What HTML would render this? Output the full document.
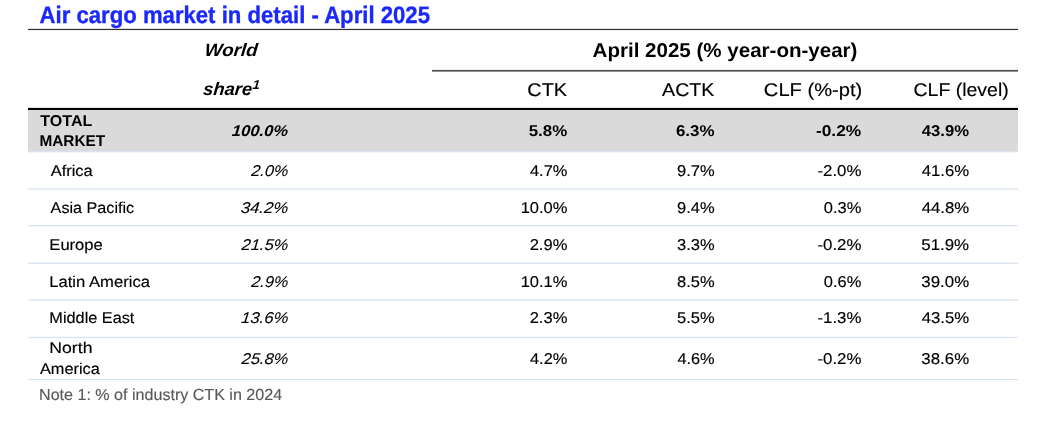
<!DOCTYPE html>
<html lang="en"><head><meta charset="utf-8"><title>Air cargo market in detail - April 2025</title>
<style>
html,body{margin:0;padding:0;background:#fff}
#pg{position:relative;width:1051px;height:429px;overflow:hidden;background:#fff;font-family:"Liberation Sans", sans-serif;color:#000;text-rendering:geometricPrecision}
.t{position:absolute;left:0;height:0;line-height:0;white-space:nowrap;transform-origin:0 50%}
.t sup{font-size:72%;vertical-align:baseline;position:relative;top:-0.43em;line-height:0}

</style></head><body>
<div id="pg">
<svg id="rules" class="ln" width="1051" height="429" viewBox="0 0 1051 429" style="position:absolute;left:0;top:0;width:1051px;height:429px"><rect x="28" y="110" width="990" height="41.2" fill="#dadada"/><rect x="28" y="28.85" width="990" height="1.2" fill="#2e2e2e"/><rect x="432" y="69.9" width="586" height="1.75" fill="#555"/><rect x="28" y="107.9" width="990" height="2.1" fill="#000"/><rect x="28" y="151.05" width="990" height="1.3" fill="#d9e3f1"/><rect x="28" y="188.40" width="990" height="1.3" fill="#d9e3f1"/><rect x="28" y="224.95" width="990" height="1.3" fill="#d9e3f1"/><rect x="28" y="262.65" width="990" height="1.3" fill="#d9e3f1"/><rect x="28" y="299.25" width="990" height="1.3" fill="#d9e3f1"/><rect x="28" y="336.80" width="990" height="1.3" fill="#d9e3f1"/><rect x="28" y="378.85" width="990" height="1.3" fill="#d9e3f1"/></svg>
<div class="t" id="title" style="top:15.60px;font-size:23.8px;font-weight:700;color:#1a28fa;-webkit-text-stroke:0.35px;transform:translateX(39.56px) scaleX(0.9302);">Air cargo market in detail - April 2025</div>
<div class="t" id="hworld" style="top:50.20px;font-size:17.9px;font-weight:700;font-style:italic;transform:translateX(204.82px) scaleX(1.0525) skewX(-5deg);">World</div>
<div class="t" id="hshare" style="top:89.20px;font-size:17.9px;font-weight:700;font-style:italic;transform:translateX(203.38px) scaleX(1.0222) skewX(-5deg);">share<sup>1</sup></div>
<div class="t" id="hgroup" style="top:51.20px;font-size:20px;font-weight:700;transform:translateX(592.60px) scaleX(1.027);">April 2025 (% year-on-year)</div>
<div class="t" id="hctk" style="top:90.40px;font-size:18.4px;-webkit-text-stroke:0.15px;transform:translateX(527.36px) scaleX(1.0798);">CTK</div>
<div class="t" id="hactk" style="top:90.40px;font-size:18.4px;-webkit-text-stroke:0.15px;transform:translateX(662.10px) scaleX(1.0645);">ACTK</div>
<div class="t" id="hclfpt" style="top:90.40px;font-size:18.4px;-webkit-text-stroke:0.15px;transform:translateX(763.85px) scaleX(1.0942);">CLF (%-pt)</div>
<div class="t" id="hclflv" style="top:90.40px;font-size:18.4px;-webkit-text-stroke:0.15px;transform:translateX(913.50px) scaleX(1.0586);">CLF (level)</div>
<div class="t" id="tot_ws" style="top:131.70px;font-size:15.6px;font-weight:700;font-style:italic;transform:translateX(231.94px) scaleX(1.062) skewX(-5deg);">100.0%</div>
<div class="t" id="tot_a" style="top:131.70px;font-size:15.6px;font-weight:700;transform:translateX(528.71px) scaleX(1.0842);">5.8%</div>
<div class="t" id="tot_b" style="top:131.70px;font-size:15.6px;font-weight:700;transform:translateX(675.96px) scaleX(1.0856);">6.3%</div>
<div class="t" id="tot_c" style="top:131.70px;font-size:15.6px;font-weight:700;transform:translateX(815.89px) scaleX(1.1147);">-0.2%</div>
<div class="t" id="tot_d" style="top:131.70px;font-size:15.6px;font-weight:700;transform:translateX(921.75px) scaleX(1.0679);">43.9%</div>
<div class="t" id="afr_l" style="top:171.50px;font-size:15.6px;-webkit-text-stroke:0.15px;transform:translateX(50.63px) scaleX(1.0579);">Africa</div>
<div class="t" id="afr_ws" style="top:171.50px;font-size:15.6px;font-style:italic;-webkit-text-stroke:0.08px;transform:translateX(251.26px) scaleX(1.0439) skewX(-5deg);">2.0%</div>
<div class="t" id="afr_a" style="top:171.50px;font-size:15.6px;-webkit-text-stroke:0.15px;transform:translateX(530.00px) scaleX(1.0512);">4.7%</div>
<div class="t" id="afr_b" style="top:171.50px;font-size:15.6px;-webkit-text-stroke:0.15px;transform:translateX(677.02px) scaleX(1.0576);">9.7%</div>
<div class="t" id="afr_c" style="top:171.50px;font-size:15.6px;-webkit-text-stroke:0.15px;transform:translateX(817.46px) scaleX(1.079);">-2.0%</div>
<div class="t" id="afr_d" style="top:171.50px;font-size:15.6px;-webkit-text-stroke:0.15px;transform:translateX(921.63px) scaleX(1.0741);">41.6%</div>
<div class="t" id="asi_l" style="top:209.00px;font-size:15.6px;-webkit-text-stroke:0.15px;transform:translateX(50.61px) scaleX(1.0362);">Asia Pacific</div>
<div class="t" id="asi_ws" style="top:209.00px;font-size:15.6px;font-style:italic;-webkit-text-stroke:0.08px;transform:translateX(240.86px) scaleX(1.0743) skewX(-5deg);">34.2%</div>
<div class="t" id="asi_a" style="top:209.00px;font-size:15.6px;-webkit-text-stroke:0.15px;transform:translateX(520.64px) scaleX(1.0578);">10.0%</div>
<div class="t" id="asi_b" style="top:209.00px;font-size:15.6px;-webkit-text-stroke:0.15px;transform:translateX(677.02px) scaleX(1.0576);">9.4%</div>
<div class="t" id="asi_c" style="top:209.00px;font-size:15.6px;-webkit-text-stroke:0.15px;transform:translateX(823.86px) scaleX(1.0552);">0.3%</div>
<div class="t" id="asi_d" style="top:209.00px;font-size:15.6px;-webkit-text-stroke:0.15px;transform:translateX(921.63px) scaleX(1.0741);">44.8%</div>
<div class="t" id="eur_l" style="top:245.70px;font-size:15.6px;-webkit-text-stroke:0.15px;transform:translateX(49.35px) scaleX(1.0608);">Europe</div>
<div class="t" id="eur_ws" style="top:245.70px;font-size:15.6px;font-style:italic;-webkit-text-stroke:0.08px;transform:translateX(241.60px) scaleX(1.0576) skewX(-5deg);">21.5%</div>
<div class="t" id="eur_a" style="top:245.70px;font-size:15.6px;-webkit-text-stroke:0.15px;transform:translateX(529.65px) scaleX(1.0609);">2.9%</div>
<div class="t" id="eur_b" style="top:245.70px;font-size:15.6px;-webkit-text-stroke:0.15px;transform:translateX(677.08px) scaleX(1.0561);">3.3%</div>
<div class="t" id="eur_c" style="top:245.70px;font-size:15.6px;-webkit-text-stroke:0.15px;transform:translateX(817.46px) scaleX(1.079);">-0.2%</div>
<div class="t" id="eur_d" style="top:245.70px;font-size:15.6px;-webkit-text-stroke:0.15px;transform:translateX(921.30px) scaleX(1.0807);">51.9%</div>
<div class="t" id="lat_l" style="top:282.60px;font-size:15.6px;-webkit-text-stroke:0.15px;transform:translateX(49.22px) scaleX(1.0663);">Latin America</div>
<div class="t" id="lat_ws" style="top:282.60px;font-size:15.6px;font-style:italic;-webkit-text-stroke:0.08px;transform:translateX(251.26px) scaleX(1.0439) skewX(-5deg);">2.9%</div>
<div class="t" id="lat_a" style="top:282.60px;font-size:15.6px;-webkit-text-stroke:0.15px;transform:translateX(520.64px) scaleX(1.0578);">10.1%</div>
<div class="t" id="lat_b" style="top:282.60px;font-size:15.6px;-webkit-text-stroke:0.15px;transform:translateX(677.09px) scaleX(1.0555);">8.5%</div>
<div class="t" id="lat_c" style="top:282.60px;font-size:15.6px;-webkit-text-stroke:0.15px;transform:translateX(823.86px) scaleX(1.0552);">0.6%</div>
<div class="t" id="lat_d" style="top:282.60px;font-size:15.6px;-webkit-text-stroke:0.15px;transform:translateX(921.36px) scaleX(1.0799);">39.0%</div>
<div class="t" id="mid_l" style="top:319.40px;font-size:15.6px;-webkit-text-stroke:0.15px;transform:translateX(49.37px) scaleX(1.0431);">Middle East</div>
<div class="t" id="mid_ws" style="top:319.40px;font-size:15.6px;font-style:italic;-webkit-text-stroke:0.08px;transform:translateX(241.08px) scaleX(1.069) skewX(-5deg);">13.6%</div>
<div class="t" id="mid_a" style="top:319.40px;font-size:15.6px;-webkit-text-stroke:0.15px;transform:translateX(529.65px) scaleX(1.0609);">2.3%</div>
<div class="t" id="mid_b" style="top:319.40px;font-size:15.6px;-webkit-text-stroke:0.15px;transform:translateX(677.03px) scaleX(1.0575);">5.5%</div>
<div class="t" id="mid_c" style="top:319.40px;font-size:15.6px;-webkit-text-stroke:0.15px;transform:translateX(817.46px) scaleX(1.079);">-1.3%</div>
<div class="t" id="mid_d" style="top:319.40px;font-size:15.6px;-webkit-text-stroke:0.15px;transform:translateX(921.63px) scaleX(1.0741);">43.5%</div>
<div class="t" id="nam_ws" style="top:360.00px;font-size:15.6px;font-style:italic;-webkit-text-stroke:0.08px;transform:translateX(241.60px) scaleX(1.0576) skewX(-5deg);">25.8%</div>
<div class="t" id="nam_a" style="top:360.00px;font-size:15.6px;-webkit-text-stroke:0.15px;transform:translateX(530.00px) scaleX(1.0512);">4.2%</div>
<div class="t" id="nam_b" style="top:360.00px;font-size:15.6px;-webkit-text-stroke:0.15px;transform:translateX(677.41px) scaleX(1.0465);">4.6%</div>
<div class="t" id="nam_c" style="top:360.00px;font-size:15.6px;-webkit-text-stroke:0.15px;transform:translateX(817.46px) scaleX(1.079);">-0.2%</div>
<div class="t" id="nam_d" style="top:360.00px;font-size:15.6px;-webkit-text-stroke:0.15px;transform:translateX(921.36px) scaleX(1.0799);">38.6%</div>
<div class="t" id="tot_l1" style="top:121.75px;font-size:15.6px;font-weight:700;transform:translateX(40.26px) scaleX(1.0298);">TOTAL</div>
<div class="t" id="tot_l2" style="top:142.25px;font-size:15.6px;font-weight:700;transform:translateX(39.44px) scaleX(0.9859);">MARKET</div>
<div class="t" id="nam_l1" style="top:349.30px;font-size:15.6px;-webkit-text-stroke:0.15px;transform:translateX(49.33px) scaleX(1.1309);">North</div>
<div class="t" id="nam_l2" style="top:370.20px;font-size:15.6px;-webkit-text-stroke:0.15px;transform:translateX(39.90px) scaleX(1.0471);">America</div>
<div class="t" id="note" style="top:396.00px;font-size:16px;color:#595959;-webkit-text-stroke:0.15px;transform:translateX(39.06px) scaleX(1.0047);">Note 1: % of industry CTK in 2024</div>
</div></body></html>
